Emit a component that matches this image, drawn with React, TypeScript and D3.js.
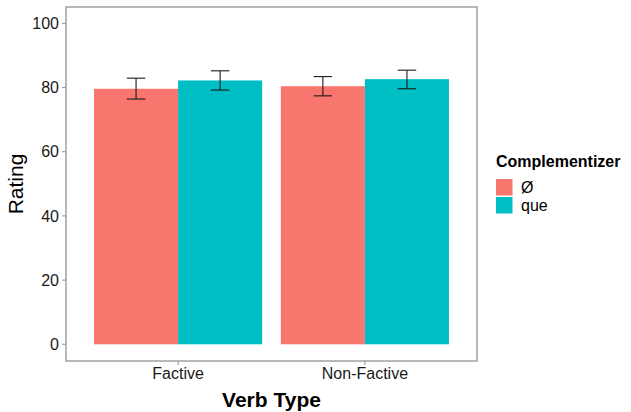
import * as d3 from 'd3';

const verbTypes = ['Factive', 'Non-Factive'];
const complementizers = ['Ø', 'que'];
const colors = ['#F8766D', '#00BFC4'];
// mean rating per verb type, one array per complementizer
const meanNull = [79.6, 80.4];
const meanQue = [82.2, 82.6];
const lowNull = [76.4, 77.4];
const highNull = [82.9, 83.4];
const lowQue = [79.2, 79.6];
const highQue = [85.2, 85.4];
const yTicks = [0, 20, 40, 60, 80, 100];

const W = 631;
const H = 412;
const margin = { top: 7, right: 154, bottom: 51, left: 66 };

const App = () => {
  const x = d3.scaleBand()
    .domain(verbTypes)
    .range([margin.left, W - margin.right])
    .paddingInner(0.1)
    .paddingOuter(0.15);

  const inner = d3.scaleBand()
    .domain(complementizers)
    .range([0, x.bandwidth()]);

  const y = d3.scaleLinear()
    .domain([0, 100])
    .range([344.3, 23.3]);

  const rows = verbTypes.flatMap((v, i) => [
    { verb: v, comp: complementizers[0], mean: meanNull[i], lo: lowNull[i], hi: highNull[i] },
    { verb: v, comp: complementizers[1], mean: meanQue[i], lo: lowQue[i], hi: highQue[i] },
  ]);

  const color = d3.scaleOrdinal<string, string>().domain(complementizers).range(colors);
  const capW = inner.bandwidth() * 0.22;
  const left = margin.left;
  const right = W - margin.right;
  const top = margin.top;
  const bottom = H - margin.bottom;

  return (
    <svg width={W} height={H} style={{ position: 'absolute', left: 0, top: 0, fontFamily: 'Liberation Sans, Arial, sans-serif' }}>
      <rect width={W} height={H} fill="#fff" />
      {/* bars */}
      {rows.map((d, i) => (
        <rect key={i}
          x={(x(d.verb) ?? 0) + (inner(d.comp) ?? 0)}
          y={y(d.mean)}
          width={inner.bandwidth()}
          height={y(0) - y(d.mean)}
          fill={color(d.comp)} />
      ))}
      {/* error bars */}
      {rows.map((d, i) => {
        const cx = (x(d.verb) ?? 0) + (inner(d.comp) ?? 0) + inner.bandwidth() / 2;
        return (
          <g key={i} stroke="#1a1a1a" strokeWidth={1.1} fill="none">
            <line x1={cx} x2={cx} y1={y(d.lo)} y2={y(d.hi)} />
            <line x1={cx - capW / 2} x2={cx + capW / 2} y1={y(d.lo)} y2={y(d.lo)} />
            <line x1={cx - capW / 2} x2={cx + capW / 2} y1={y(d.hi)} y2={y(d.hi)} />
          </g>
        );
      })}
      {/* panel border */}
      <rect x={left} y={top} width={right - left} height={bottom - top} fill="none" stroke="#9a9a9a" strokeWidth={1.4} />
      {/* y axis */}
      {yTicks.map(t => (
        <g key={t}>
          <line x1={left - 4} x2={left} y1={y(t)} y2={y(t)} stroke="#9a9a9a" strokeWidth={1.1} />
          <text x={left - 7} y={y(t)} dy="0.36em" textAnchor="end" fontSize={16} fill="#1a1a1a">{t}</text>
        </g>
      ))}
      {/* x axis */}
      {verbTypes.map(v => {
        const cx = (x(v) ?? 0) + x.bandwidth() / 2;
        return (
          <g key={v}>
            <line x1={cx} x2={cx} y1={bottom} y2={bottom + 4} stroke="#9a9a9a" strokeWidth={1.1} />
            <text x={cx} y={379} textAnchor="middle" fontSize={16} fill="#1a1a1a">{v}</text>
          </g>
        );
      })}
      <text x={(left + right) / 2} y={407} textAnchor="middle" fontSize={21} fontWeight="bold">Verb Type</text>
      <text transform={`translate(23,${(top + bottom) / 2}) rotate(-90)`} textAnchor="middle" fontSize={21}>Rating</text>
      {/* legend */}
      <text x={496} y={167} fontSize={16} fontWeight="bold">Complementizer</text>
      {complementizers.map((c, i) => (
        <g key={c} transform={`translate(496,${179 + i * 18})`}>
          <rect width={16.5} height={16.5} fill={color(c)} />
          <text x={25} y={8.5} dy="0.36em" fontSize={16}>{c}</text>
        </g>
      ))}
    </svg>
  );
};

export default App;
